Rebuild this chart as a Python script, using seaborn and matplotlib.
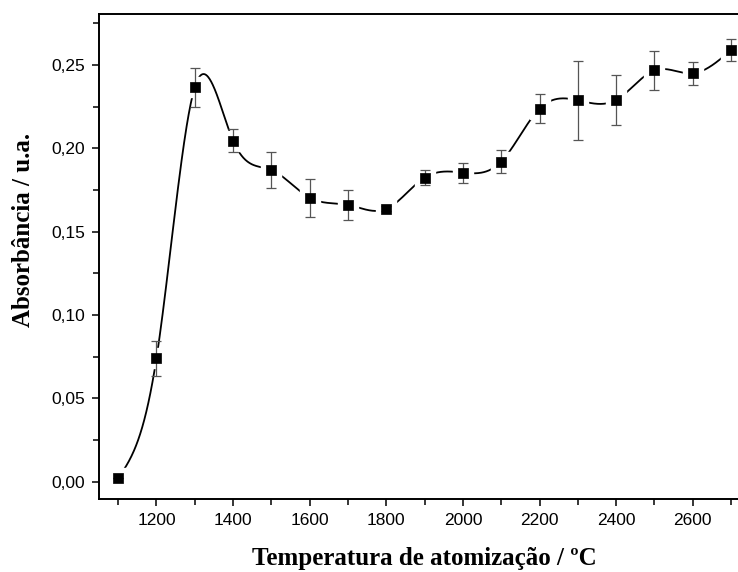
import numpy as np
import pandas as pd
import matplotlib
matplotlib.use('Agg')
import matplotlib.pyplot as plt
from matplotlib.ticker import MultipleLocator, FuncFormatter
import seaborn as sns

# Atomization temperature (C) vs absorbance, with error bars
temperatura = [1100, 1200, 1300, 1400, 1500, 1600, 1700, 1800, 1900,
               2000, 2100, 2200, 2300, 2400, 2500, 2600, 2700]
absorbancia = [0.002, 0.074, 0.2366, 0.2046, 0.187, 0.1703, 0.166, 0.1636, 0.1824,
               0.1854, 0.192, 0.2238, 0.2288, 0.229, 0.2468, 0.245, 0.259]
erro = [0.0, 0.0105, 0.0117, 0.007, 0.011, 0.0113, 0.009, 0.0015, 0.0045,
        0.006, 0.0068, 0.0087, 0.0236, 0.015, 0.0118, 0.007, 0.0067]


def natural_spline(x, y, n=1200):
    # natural cubic spline through the points (like Origin's spline connect)
    x = np.asarray(x, float)
    y = np.asarray(y, float)
    k = len(x)
    h = np.diff(x)
    A = np.zeros((k, k))
    b = np.zeros(k)
    A[0, 0] = 1
    A[-1, -1] = 1
    for i in range(1, k - 1):
        A[i, i - 1] = h[i - 1]
        A[i, i] = 2 * (h[i - 1] + h[i])
        A[i, i + 1] = h[i]
        b[i] = 6 * ((y[i + 1] - y[i]) / h[i] - (y[i] - y[i - 1]) / h[i - 1])
    M = np.linalg.solve(A, b)
    xs = np.linspace(x[0], x[-1], n)
    idx = np.clip(np.searchsorted(x, xs) - 1, 0, k - 2)
    x0, x1 = x[idx], x[idx + 1]
    hh = x1 - x0
    t0, t1 = x1 - xs, xs - x0
    ys = (M[idx] * t0**3 + M[idx + 1] * t1**3) / (6 * hh) \
        + (y[idx] / hh - M[idx] * hh / 6) * t0 \
        + (y[idx + 1] / hh - M[idx + 1] * hh / 6) * t1
    return xs, ys


sns.set_style("ticks")
plt.rcParams['font.family'] = ['Liberation Sans', 'DejaVu Sans']
plt.rcParams['text.color'] = 'black'
plt.rcParams['axes.labelcolor'] = 'black'

fig = plt.figure(figsize=(7.38, 5.72), dpi=100)
ax = fig.add_axes([99 / 738, 1 - 499 / 572, 1 - 99 / 738, (499 - 14) / 572])

xs, ys = natural_spline(temperatura, absorbancia)
curve = pd.DataFrame({'x': xs, 'y': ys})
sns.lineplot(data=curve, x='x', y='y', ax=ax, color='black', linewidth=1.3,
             zorder=2, estimator=None, sort=False)

# white halo around markers so the line stops short of them
ax.plot(temperatura, absorbancia, linestyle='none', marker='s', markersize=14,
        markerfacecolor='white', markeredgecolor='white', zorder=3)

ax.errorbar(temperatura, absorbancia, yerr=erro, fmt='none', ecolor='#555555',
            elinewidth=0.9, capsize=3.5, capthick=0.9, zorder=4)

df = pd.DataFrame({'t': temperatura, 'a': absorbancia})
sns.scatterplot(data=df, x='t', y='a', ax=ax, marker='s', s=62, color='black',
                edgecolor='black', linewidth=0.5, zorder=5)

ax.set_xlim(1050, 2718)
ax.set_ylim(-0.0105, 0.2806)

ax.xaxis.set_major_locator(MultipleLocator(200))
ax.xaxis.set_minor_locator(MultipleLocator(100))
ax.yaxis.set_major_locator(MultipleLocator(0.05))
ax.yaxis.set_minor_locator(MultipleLocator(0.025))
ax.yaxis.set_major_formatter(FuncFormatter(lambda v, p: f"{v:.2f}".replace('.', ',')))

ax.tick_params(axis='both', which='major', direction='out', length=5, width=1.1,
               labelsize=12.5, pad=5, color='black', labelcolor='black')
ax.tick_params(axis='both', which='minor', direction='out', length=4, width=1.1,
               color='black')

for side in ['left', 'bottom', 'top']:
    ax.spines[side].set_visible(True)
    ax.spines[side].set_linewidth(1.4)
    ax.spines[side].set_color('black')
ax.spines['right'].set_visible(False)

ax.set_xlabel("Temperatura de atomização / ºC", fontsize=18, fontweight='bold',
              family=['Liberation Serif', 'DejaVu Serif'])
ax.set_ylabel("Absorbância / u.a.", fontsize=18, fontweight='bold',
              family=['Liberation Serif', 'DejaVu Serif'])
ax.xaxis.set_label_coords(0.5086, -0.100)
ax.yaxis.set_label_coords(-0.100, 0.5546)

fig.savefig("out.png", dpi=100)
